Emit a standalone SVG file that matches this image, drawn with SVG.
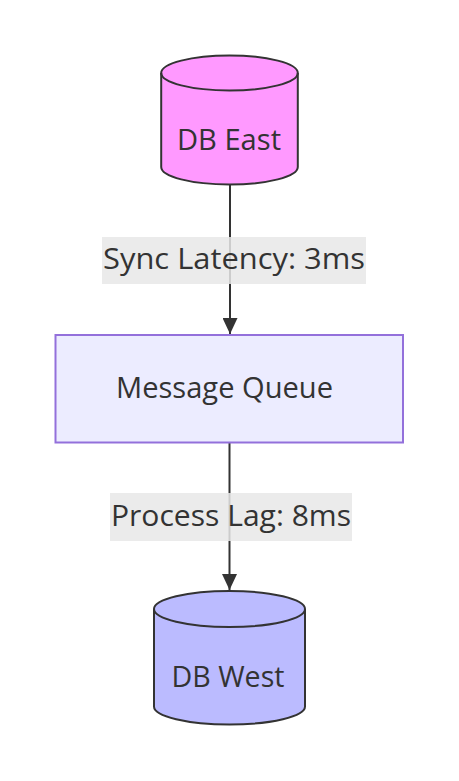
<svg xmlns="http://www.w3.org/2000/svg" width="459" height="781" viewBox="0 0 459 781">
<style>
.bg{fill:#ffffff}
.lbl{font-family:"Open Sans","Liberation Sans",sans-serif;font-size:29px;fill:#333333;text-anchor:middle}
.cyl{stroke:#333333;stroke-width:2}
.edge{stroke:#333333;stroke-width:2;fill:none}
.elbg{fill:#e8e8e8;fill-opacity:0.85}
</style>
<defs>
<marker id="arrow" viewBox="0 0 16 15" refX="16" refY="7.5" markerUnits="userSpaceOnUse" markerWidth="16" markerHeight="15" orient="auto">
<path d="M0,0 L16,7.5 L0,15 z" fill="#333333"/>
</marker>
</defs>
<rect class="bg" x="0" y="0" width="459" height="781"/>
<g id="connectors">
<path class="edge" d="M230,184.5 L230,334" marker-end="url(#arrow)"/>
<path class="edge" d="M229.5,442.5 L229.5,590" marker-end="url(#arrow)"/>
<g id="label-sync">
<rect class="elbg" x="102" y="237" width="264" height="47"/>
<text class="lbl" x="234" y="269" textLength="262" lengthAdjust="spacingAndGlyphs">Sync Latency: 3ms</text>
</g>
<g id="label-lag">
<rect class="elbg" x="110" y="493" width="242" height="48"/>
<text class="lbl" x="231" y="526" textLength="240" lengthAdjust="spacingAndGlyphs">Process Lag: 8ms</text>
</g>
</g>
<g id="dbeast">
<path class="cyl" fill="#ff99ff" d="M161.2,73 A68.3,17.5 0 0 1 297.8,73 L297.8,167 A68.3,17.5 0 0 1 161.2,167 Z"/>
<path class="cyl" fill="none" d="M161.2,73 A68.3,17.5 0 0 0 297.8,73"/>
<text class="lbl" x="229" y="150" textLength="104" lengthAdjust="spacingAndGlyphs">DB East</text>
</g>
<g id="mq">
<rect x="55.5" y="335" width="347.5" height="107.5" fill="#ececff" stroke="#9370db" stroke-width="2"/>
<text class="lbl" x="224.5" y="398" textLength="217" lengthAdjust="spacingAndGlyphs">Message Queue</text>
</g>
<g id="dbwest">
<path class="cyl" fill="#bbbbff" d="M154,609 A75.5,18 0 0 1 305,609 L305,706.5 A75.5,18 0 0 1 154,706.5 Z"/>
<path class="cyl" fill="none" d="M154,609 A75.5,18 0 0 0 305,609"/>
<text class="lbl" x="228" y="687" textLength="113" lengthAdjust="spacingAndGlyphs">DB West</text>
</g>
</svg>
